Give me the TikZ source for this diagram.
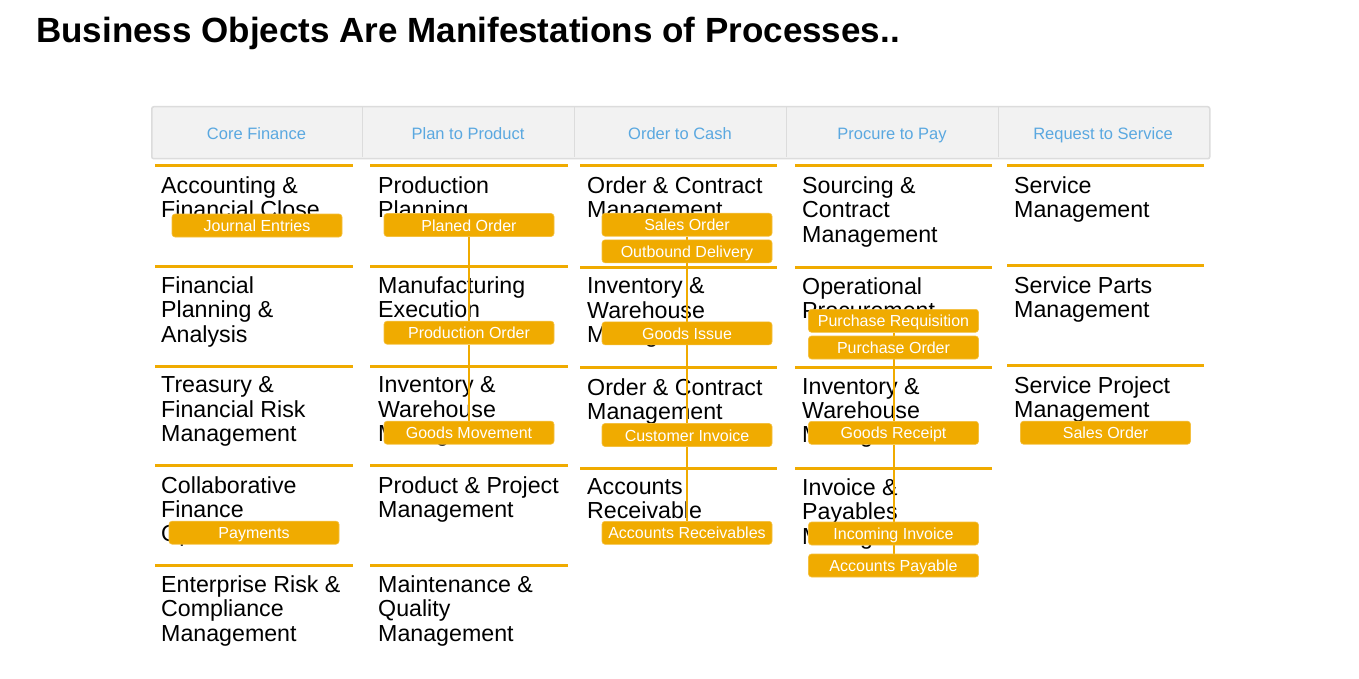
\documentclass[tikz,border=0pt]{standalone}
\usepackage{fontspec}
\setmainfont{Liberation Sans}
\definecolor{sapgold}{HTML}{F0AB00}
\definecolor{headblue}{HTML}{5AA8E0}
\definecolor{headfill}{HTML}{F2F2F2}
\definecolor{headline}{HTML}{DCDCDC}
\pgfdeclarelayer{bglayer}
\pgfdeclarelayer{textlayer}
\pgfdeclarelayer{linklayer}
\pgfsetlayers{bglayer,textlayer,linklayer,main}
\begin{document}
\begin{tikzpicture}[x=1pt,y=-1pt,
  title/.style={anchor=base west, inner sep=0, font=\fontsize{35}{40}\selectfont\bfseries},
  colhead/.style={anchor=base, inner sep=0, text=headblue, font=\fontsize{16.5}{20}\selectfont},
  area/.style={anchor=north west, inner sep=0, align=left, font=\fontsize{23.2}{24.3}\selectfont},
  rowrule/.style={draw=sapgold, line width=3},
  obj/.style={fill=sapgold, draw=sapgold!75!white, line width=0.6, rounded corners=3,
    minimum width=170, minimum height=23, inner sep=0, text=white,
    text height=13.5, text depth=1.5, font=\fontsize{16}{18}\selectfont},
  link/.style={draw=sapgold, line width=2}]

\begin{pgfonlayer}{bglayer}
\fill[white] (0,0) rectangle (1359,679);
\end{pgfonlayer}
\useasboundingbox (0,0) rectangle (1359,679);

% title
\node[title] (title) at (36,42.5) {Business Objects Are Manifestations of Processes..};

% header bar with the five process columns
\node[anchor=north west, fill=headfill, draw=headline, line width=1.5, rounded corners=2,
      minimum width=1058, minimum height=52, inner sep=0] (header) at (151,106) {};
\foreach \x in {362,574,786,998} \draw[headline, line width=1] (\x,107) -- (\x,157);
\node[colhead] (h1) at (256.5,140) {Core Finance};
\node[colhead] (h2) at (468,140) {Plan to Product};
\node[colhead] (h3) at (680,140) {Order to Cash};
\node[colhead] (h4) at (892,140) {Procure to Pay};
\node[colhead] (h5) at (1103,140) {Request to Service};

% row rules
\foreach \y in {166,266,366,465.5,565} {
  \draw[rowrule] (155,\y) -- (353,\y);
  \draw[rowrule] (370,\y) -- (568,\y);
}
\foreach \y in {166,267,367.5,468} {
  \draw[rowrule] (580,\y) -- (777,\y);
  \draw[rowrule] (795,\y) -- (992,\y);
}
\foreach \y in {166,265.5,365.5} \draw[rowrule] (1007,\y) -- (1204,\y);

% solution areas
\begin{pgfonlayer}{textlayer}
\node[area] (a11) at (161,176.5) {Accounting \&\\Financial Close};
\node[area] (a12) at (161,276.5) {Financial\\Planning \&\\Analysis};
\node[area] (a13) at (161,376.5) {Treasury \&\\Financial Risk\\Management};
\node[area] (a14) at (161,476) {Collaborative\\Finance\\Operations};
\node[area] (a15) at (161,575.5) {Enterprise Risk \&\\Compliance\\Management};

\node[area] (a21) at (378,176.5) {Production\\Planning};
\node[area] (a22) at (378,276.5) {Manufacturing\\Execution};
\node[area] (a23) at (378,376.5) {Inventory \&\\Warehouse\\Management};
\node[area] (a24) at (378,476) {Product \& Project\\Management};
\node[area] (a25) at (378,575.5) {Maintenance \&\\Quality\\Management};

\node[area] (a31) at (587,176.5) {Order \& Contract\\Management};
\node[area] (a32) at (587,277.5) {Inventory \&\\Warehouse\\Management};
\node[area] (a33) at (587,378) {Order \& Contract\\Management};
\node[area] (a34) at (587,478.5) {Accounts\\Receivable};

\node[area] (a41) at (802,176.5) {Sourcing \&\\Contract\\Management};
\node[area] (a42) at (802,277.5) {Operational\\Procurement};
\node[area] (a43) at (802,378) {Inventory \&\\Warehouse\\Management};
\node[area] (a44) at (802,478.5) {Invoice \&\\Payables\\Management};

\node[area] (a51) at (1014,176.5) {Service\\Management};
\node[area] (a52) at (1014,276) {Service Parts\\Management};
\node[area] (a53) at (1014,376) {Service Project\\Management};
\end{pgfonlayer}

% business objects
\node[obj] (je)  at (257,225.5) {Journal Entries};
\node[obj] (pay) at (254,532.7) {Payments};

\node[obj] (pln) at (469,225) {Planed Order};
\node[obj] (prd) at (469,332.7) {Production Order};
\node[obj] (gmv) at (469,432.7) {Goods Movement};

\node[obj] (so)  at (687,224.7) {Sales Order};
\node[obj] (od)  at (687,251.3) {Outbound Delivery};
\node[obj] (gi)  at (687,333.3) {Goods Issue};
\node[obj] (ci)  at (687,435) {Customer Invoice};
\node[obj] (ar)  at (687,532.8) {Accounts Receivables};

\node[obj] (pr)  at (893.5,320.8) {Purchase Requisition};
\node[obj] (po)  at (893.5,347.5) {Purchase Order};
\node[obj] (gr)  at (893.5,432.8) {Goods Receipt};
\node[obj] (ii)  at (893.5,533.5) {Incoming Invoice};
\node[obj] (ap)  at (893.5,565.5) {Accounts Payable};

\node[obj] (so2) at (1105.5,432.7) {Sales Order};

% process flows
\begin{pgfonlayer}{linklayer}
\draw[link] (pln) -- (prd) -- (gmv);
\draw[link] (so) -- (od) -- (gi) -- (ci) -- (ar);
\draw[link] (pr) -- (po) -- (gr) -- (ii) -- (ap);
\end{pgfonlayer}
\end{tikzpicture}
\end{document}
